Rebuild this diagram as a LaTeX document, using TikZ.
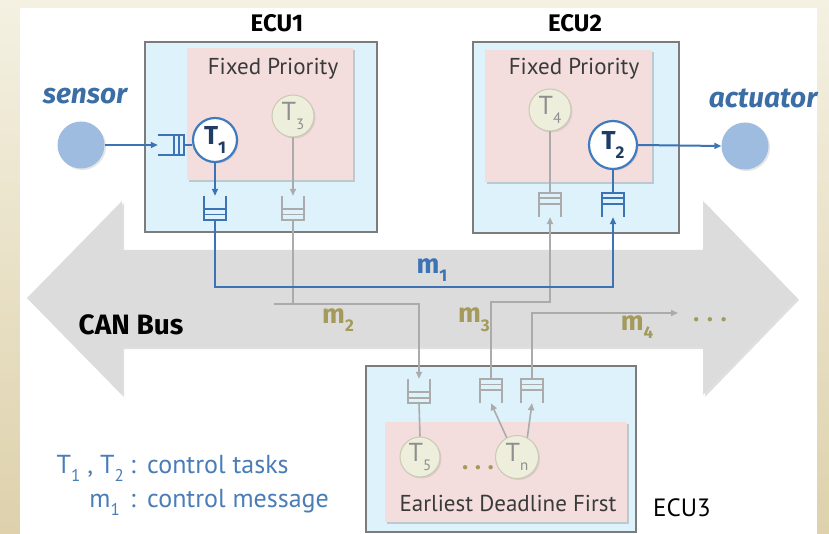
\documentclass[tikz,border=0pt]{standalone}
\usepackage{fontspec}
\setmainfont{PT Sans}
\newfontfamily\heavyfam{Fira Sans}
\usetikzlibrary{arrows.meta,shadows,calc}

\definecolor{bgtop}{HTML}{F4F1E2}
\definecolor{bgbot}{HTML}{DED1AC}
\definecolor{ecufill}{HTML}{DDF2FB}
\definecolor{ecudraw}{HTML}{7C7C7C}
\definecolor{pinkfill}{HTML}{F3DEDD}
\definecolor{tblue}{HTML}{3F7BBE}
\definecolor{tnavy}{HTML}{1F3D64}
\definecolor{lgray}{HTML}{ABABAB}
\definecolor{cfill}{HTML}{EDEEDB}
\definecolor{cdraw}{HTML}{C9C9B4}
\definecolor{tgray}{HTML}{8E8E8E}
\definecolor{olive}{HTML}{A39A5B}
\definecolor{devfill}{HTML}{9EBCE0}
\definecolor{busfill}{HTML}{DCDCDC}
\definecolor{labelblue}{HTML}{3C6EA6}
\definecolor{legendblue}{HTML}{4A7DB8}
\definecolor{msgblue}{HTML}{3C73B4}
\definecolor{darktext}{HTML}{3A3A3A}

% lowered index digit
\newcommand\lowidx[2][14]{\raisebox{-0.32em}{\fontsize{#1}{#1}\selectfont #2}}

% queue glyphs drawn around an (invisible) named node
\newcommand\qslotsbottom[2]{%
  \draw[#2] (#1.north west) -- (#1.south west) -- (#1.south east) -- (#1.north east);
  \draw[#2] ([yshift=5.5pt]#1.south west) -- ([yshift=5.5pt]#1.south east)
            ([yshift=11pt]#1.south west) -- ([yshift=11pt]#1.south east);}
\newcommand\qslotstop[2]{%
  \draw[#2] (#1.south west) -- (#1.north west) -- (#1.north east) -- (#1.south east);
  \draw[#2] ([yshift=-5.5pt]#1.north west) -- ([yshift=-5.5pt]#1.north east)
            ([yshift=-11pt]#1.north west) -- ([yshift=-11pt]#1.north east);}
\newcommand\qslotsright[2]{%
  \draw[#2] (#1.north west) -- (#1.north east) -- (#1.south east) -- (#1.south west);
  \draw[#2] ([xshift=-5pt]#1.north east) -- ([xshift=-5pt]#1.south east)
            ([xshift=-10pt]#1.north east) -- ([xshift=-10pt]#1.south east);}

\tikzset{
  ecubox/.style={draw=ecudraw, line width=2pt, fill=ecufill},
  schedbox/.style={fill=pinkfill, drop shadow={opacity=0.35, shadow xshift=2pt, shadow yshift=-2pt}},
  ctask/.style={circle, draw=tblue, line width=2.2pt, fill=white, minimum size=44pt, inner sep=0pt,
    text=tnavy, font=\heavyfam\fontsize{26}{26}\selectfont\bfseries,
    drop shadow={opacity=0.25, shadow xshift=1.5pt, shadow yshift=-1.5pt}},
  otask/.style={circle, draw=cdraw, line width=1pt, fill=cfill, minimum size=42pt, inner sep=0pt,
    text=tgray, font=\fontsize{26}{26}\selectfont,
    drop shadow={opacity=0.2, shadow xshift=1.5pt, shadow yshift=-1.5pt}},
  queue/.style={minimum width=22pt, minimum height=24pt, inner sep=0pt},
  hqueue/.style={minimum width=26pt, minimum height=20pt, inner sep=0pt},
  dev/.style={circle, fill=devfill, minimum size=47pt, inner sep=0pt,
    drop shadow={opacity=0.2, shadow xshift=1.5pt, shadow yshift=-1.5pt}},
  devlabel/.style={text=labelblue, font=\heavyfam\fontsize{28}{28}\selectfont\bfseries\itshape},
  ecutitle/.style={font=\heavyfam\fontsize{24}{24}\selectfont\bfseries},
  schedtitle/.style={text=darktext, font=\fontsize{23}{23}\selectfont},
  bluelink/.style={draw=msgblue, line width=2pt},
  graylink/.style={draw=lgray, line width=1.6pt},
  qblue/.style={draw=msgblue, line width=1.6pt},
  qgray/.style={draw=lgray, line width=1.6pt},
  tip/.style={-{Triangle[length=7pt,width=6pt]}},
  msglabel/.style={font=\heavyfam\fontsize{27}{27}\selectfont\bfseries},
  legend/.style={text=legendblue, font=\fontsize{26}{26}\selectfont, inner sep=0pt},
}

\begin{document}
\begin{tikzpicture}[x=1pt,y=-1pt]
\useasboundingbox (0,0) rectangle (829,534);

% page background
\shade[top color=bgtop, bottom color=bgbot] (0,0) rectangle (829,534);
\fill[white] (20,8) rectangle (817,534);

% CAN bus: double-headed arrow
\path[fill=busfill, drop shadow={opacity=0.25, shadow xshift=2pt, shadow yshift=-2pt}]
  (27,298) -- (122,201) -- (122,250) -- (703,250) -- (703,201) -- (797,298)
  -- (703,395) -- (703,347) -- (122,347) -- (122,395) -- cycle;
\node[font=\heavyfam\fontsize{28}{28}\selectfont\bfseries] (canbus) at (131,325) {CAN Bus};

% ECU boxes and scheduler areas
\draw[ecubox] (145,42) rectangle (377,232);
\fill[schedbox] (187,48) rectangle (353,180);
\draw[ecubox] (473,42) rectangle (679,233);
\fill[schedbox] (485,50) rectangle (652,182);
\draw[ecubox] (366,366) rectangle (636,532);
\fill[schedbox] (385,422) rectangle (627,522);

\node[ecutitle] (ecu1) at (277,23) {ECU1};
\node[ecutitle] (ecu2) at (575,23) {ECU2};
\node[font=\fontsize{25}{25}\selectfont] (ecu3) at (682,508) {ECU3};

\node[schedtitle] (fp1) at (273,69) {Fixed Priority};
\node[schedtitle] (fp2) at (574,69) {Fixed Priority};
\node[schedtitle] (edf) at (508,503) {Earliest Deadline First};

% sensor and actuator
\node[dev] (sensor) at (81,145) {};
\node[devlabel] (sensorlbl) at (85,96) {sensor};
\node[dev] (actuator) at (745,146) {};
\node[devlabel] (actuatorlbl) at (763,98) {actuator};

% tasks
\node[ctask] (T1) at (215,140) {T\lowidx[17]{1}};
\node[otask] (T3) at (293,116) {T\lowidx[15]{3}};
\node[otask] (T4) at (550,110) {T\lowidx[15]{4}};
\node[ctask, minimum size=48pt] (T2) at (613,145) {T\lowidx[17]{2}};
\node[otask, minimum size=40pt] (T5) at (420,457) {T\lowidx[15]{5}};
\node[otask, minimum size=43pt] (Tn) at (517,457) {T\lowidx[15]{n}};
\node[text=olive, font=\heavyfam\fontsize{24}{24}\selectfont\bfseries] (edots) at (478,468) {.\hspace{7pt}.\hspace{7pt}.};

% queues
\node[hqueue] (qin) at (171,145) {};
\qslotsright{qin}{qblue}
\node[queue] (q1) at (215,208) {};
\qslotsbottom{q1}{qblue}
\node[queue] (q3) at (293,208) {};
\qslotsbottom{q3}{qgray}
\node[queue] (q4) at (550,205) {};
\qslotstop{q4}{qgray}
\node[queue] (q2) at (613,205) {};
\qslotstop{q2}{qblue}
\node[queue] (q5) at (419,391) {};
\qslotsbottom{q5}{qgray}
\node[queue] (qn1) at (491,391) {};
\qslotstop{qn1}{qgray}
\node[queue] (qn2) at (532,391) {};
\qslotstop{qn2}{qgray}

% task connections inside the ECUs
\draw[bluelink, tip] (sensor) -- (qin.west);
\draw[bluelink] (qin.east) -- (T1.west |- qin.east);
\draw[bluelink, tip] (T1.south) -- (q1.north);
\draw[graylink, tip] (T3.south) -- (q3.north);
\draw[graylink] (T4.south) -- (q4.north);
\draw[bluelink] (T2.south) -- (q2.north);
\draw[bluelink, tip] (T2.east) -- (actuator.west);
\draw[graylink] (T5.north) -- (q5.south);
\draw[graylink, tip] (Tn.118) -- (qn1.south);
\draw[graylink, tip] (Tn.62) -- (qn2.south);

% messages on the bus
\coordinate (m1y) at (400,287);
\coordinate (m2a) at (274,304);
\coordinate (m3y) at (520,302);
\coordinate (m4end) at (678,313);

\draw[graylink] (q3.south) -- (q3.south |- m2a);
\draw[graylink, tip] (m2a) -| (q5.north);
\draw[graylink, tip] (qn1.north) |- (m3y) -| (q4.south);
\draw[graylink, tip] (qn2.north) |- (m4end);
\draw[bluelink, tip] (q1.south) |- (m1y) -| (q2.south);

\node[msglabel, text=msgblue] (m1) at (432,270) {m\lowidx[17]{1}};
\node[msglabel, text=olive] (m2) at (338,320) {m\lowidx[17]{2}};
\node[msglabel, text=olive] (m3) at (474,320) {m\lowidx[17]{3}};
\node[msglabel, text=olive] (m4) at (637,327) {m\lowidx[17]{4}};
\node[text=olive, font=\heavyfam\fontsize{24}{24}\selectfont\bfseries] (bdots) at (710,320) {.\hspace{8pt}.\hspace{8pt}.};

% legend
\node[legend, anchor=base east] (lgT) at (124,473) {T\lowidx[17]{1} , T\lowidx[17]{2}};
\node[legend, anchor=base] (lgc1) at (133,473) {:};
\node[legend, anchor=base west] (lgt1) at (147,473) {control tasks};
\node[legend, anchor=base east] (lgm) at (120,507) {m\lowidx[17]{1}};
\node[legend, anchor=base] (lgc2) at (133,507) {:};
\node[legend, anchor=base west] (lgt2) at (147,507) {control message};
\end{tikzpicture}
\end{document}
